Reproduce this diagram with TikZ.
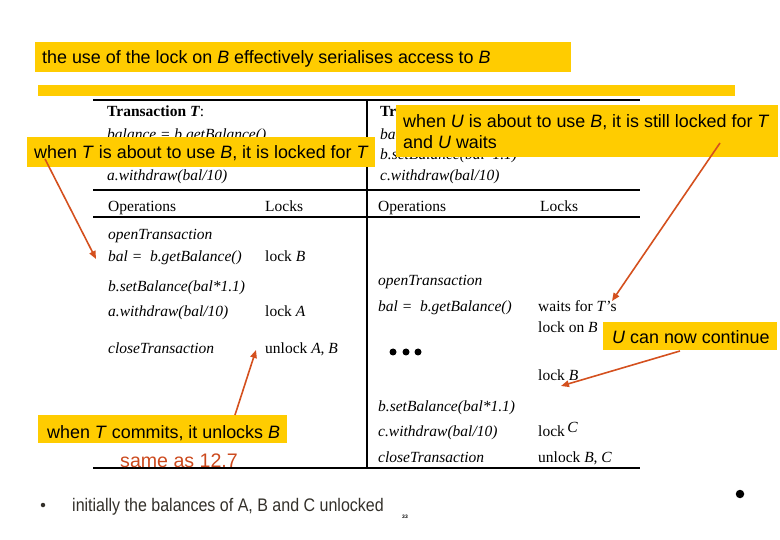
\documentclass[tikz,border=0pt]{standalone}
\usepackage{fontspec}
\setmainfont{Liberation Serif}
\setsansfont{Liberation Sans}
\newfontfamily\narrowsans[FakeStretch=0.88]{Liberation Sans}
\usetikzlibrary{arrows.meta}
\definecolor{yel}{HTML}{FFCC00}
\definecolor{arr}{HTML}{D4501E}
\definecolor{redtxt}{HTML}{CC4A1E}
\definecolor{bodytxt}{HTML}{33302A}
\begin{document}
\begin{tikzpicture}[x=1pt,y=-1pt,
  tt/.style={anchor=base west, inner sep=0pt, font=\fontsize{15.5}{18}\selectfont},
  rulel/.style={line width=2.8pt},
  ybox/.style={fill=yel, inner sep=0pt, anchor=north west},
  ctext/.style={anchor=base west, inner sep=0pt, font=\sffamily\fontsize{17.9}{21}\selectfont},
  conn/.style={draw=arr, line width=1.6pt, -{Triangle[length=8pt,width=6.5pt]}},
  blob/.style={circle, fill=black, inner sep=0pt},
]
\useasboundingbox (0,0) rectangle (780,540);

% title and bar
\node[ybox, minimum width=536pt, minimum height=30pt] (titlebox) at (35,42) {};
\node[ctext] (title) at (42,63.3) {the use of the lock on \textit{B} effectively serialises access to \textit{B}};
\node[ybox, minimum width=697pt, minimum height=11pt] (bar) at (38,85) {};

% table rules
\draw[rulel] (93,100) -- (640,100);
\draw[rulel] (93,190) -- (640,190);
\draw[rulel] (93,217) -- (640,217);
\draw[rulel] (93,468) -- (640,468);
\draw[rulel] (367,100) -- (367,468);

% header T
\node[tt] (tT) at (107,117) {\textbf{Transaction \textit{T}}:};
\node[tt] (tT1) at (107,140) {\textit{balance = b.getBalance()}};
\node[tt] (tT2) at (107,160) {\textit{b.setBalance(bal*1.1)}};
\node[tt] (tT3) at (107,181) {\textit{a.withdraw(bal/10)}};
% header U
\node[tt] (tU) at (380,117) {\textbf{Transaction \textit{U}}:};
\node[tt] (tU1) at (380,140) {\textit{bal = b.getBalance()}};
\node[tt] (tU2) at (380,160) {\textit{b.setBalance(bal*1.1)}};
\node[tt] (tU3) at (380,181) {\textit{c.withdraw(bal/10)}};

% column heads
\node[tt] (opT) at (108,212) {Operations};
\node[tt] (lkT) at (265,212) {Locks};
\node[tt] (opU) at (378,212) {Operations};
\node[tt] (lkU) at (540,212) {Locks};

% T operations
\node[tt] (o1) at (108,240) {\textit{openTransaction}};
\node[tt] (o2) at (108,262) {\textit{bal =\ \ b.getBalance()}};
\node[tt] (l2) at (265,262) {lock \textit{B}};
\node[tt] (o3) at (108,292) {\textit{b.setBalance(bal*1.1)}};
\node[tt] (o4) at (108,317) {\textit{a.withdraw(bal/10)}};
\node[tt] (l4) at (265,317) {lock \textit{A}};
\node[tt] (o5) at (108,354) {\textit{closeTransaction}};
\node[tt] (l5) at (265,354) {unlock \textit{A}, \textit{B}};

% U operations
\node[tt] (u1) at (378,286) {\textit{openTransaction}};
\node[tt] (u2) at (378,312) {\textit{bal =\ \ b.getBalance()}};
\node[tt] (w1) at (538,312) {waits for \textit{T}'s};
\node[tt] (w2) at (538,333) {lock on \textit{B}};
\node[blob, minimum size=7pt] (d1) at (393,352) {};
\node[blob, minimum size=7pt] (d2) at (406,352) {};
\node[blob, minimum size=7pt] (d3) at (418,352) {};
\node[tt] (wl) at (538,381) {lock \textit{B}};
\node[tt] (u3) at (378,411) {\textit{b.setBalance(bal*1.1)}};
\node[tt] (u4) at (378,436) {\textit{c.withdraw(bal/10)}};
\node[tt] (ul4) at (538,436) {lock\,\raisebox{4pt}{\textit{C}}};
\node[tt] (u5) at (378,462) {\textit{closeTransaction}};
\node[tt] (ul5) at (538,462) {unlock \textit{B}, \textit{C}};

% callouts
\node[ybox, minimum width=348pt, minimum height=30pt] (c1box) at (27,137) {};
\node[ctext] (c1) at (34,158.3) {when \textit{T} is about to use \textit{B}, it is locked for \textit{T}};
\node[ybox, minimum width=382pt, minimum height=52pt] (c2box) at (396,105) {};
\node[ctext] (c2a) at (403,127.3) {when \textit{U} is about to use \textit{B}, it is still locked for \textit{T}};
\node[ctext] (c2b) at (403,148.3) {and \textit{U} waits};
\node[ybox, minimum width=174pt, minimum height=28pt] (c3box) at (603,322) {};
\node[ctext] (c3) at (612,343.3) {\textit{U} can now continue};
\node[ybox, minimum width=249pt, minimum height=28pt] (c4box) at (38,415) {};
\node[ctext] (c4) at (47,438.3) {when \textit{T} commits, it unlocks \textit{B}};
\node[anchor=base west, inner sep=0pt, text=redtxt, font=\sffamily\fontsize{19.6}{22}\selectfont] (same) at (120,467) {same as 12.7};

% connectors
\coordinate (a1) at (45,159);  \coordinate (a2) at (96,259);
\coordinate (b1) at (720,143); \coordinate (b2) at (612,301);
\coordinate (e1) at (680,351); \coordinate (e2) at (561,386);
\coordinate (f1) at (235,415); \coordinate (f2) at (256,350);
\draw[conn] (a1) -- (a2);
\draw[conn] (b1) -- (b2);
\draw[conn] (e1) -- (e2);
\draw[conn] (f1) -- (f2);

% bottom
\node[circle, fill=bodytxt, inner sep=0pt, minimum size=4.5pt] (bul) at (43,505) {};
\node[anchor=base west, inner sep=0pt, text=bodytxt, font=\narrowsans\fontsize{18.2}{21}\selectfont] (bottom) at (72,511) {initially the balances of A, B and C unlocked};
\node[inner sep=0pt, font=\sffamily\bfseries\fontsize{5}{6}\selectfont] (pg) at (405,517) {33};
\node[blob, minimum size=8.5pt] (bigdot) at (740,494) {};
\end{tikzpicture}
\end{document}
